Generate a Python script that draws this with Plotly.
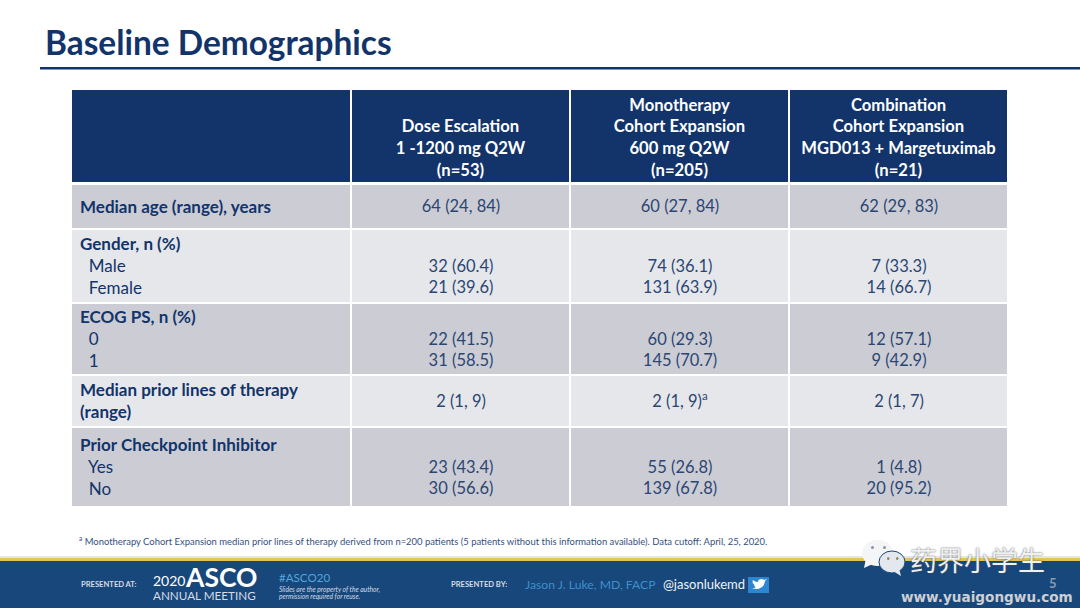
import plotly.graph_objects as go

# table content
col_heads = [
    "&nbsp;<br><b>Dose Escalation</b><br><b>1 -1200 mg Q2W</b><br><b>(n=53)</b>",
    "<b>Monotherapy</b><br><b>Cohort Expansion</b><br><b>600 mg Q2W</b><br><b>(n=205)</b>",
    "<b>Combination</b><br><b>Cohort Expansion</b><br><b>MGD013 + Margetuximab</b><br><b>(n=21)</b>",
]
row_names = [
    "<b>Median age (range), years</b>",
    "<b>Gender, n (%)</b><br>  Male<br>  Female",
    "<b>ECOG PS, n (%)</b><br>  0<br>  1",
    "<b>Median prior lines of therapy</b><br><b>(range)</b>",
    "<b>Prior Checkpoint Inhibitor</b><br>  Yes<br>  No",
]
dose_esc = ["64 (24, 84)", "&nbsp;<br>32 (60.4)<br>21 (39.6)", "&nbsp;<br>22 (41.5)<br>31 (58.5)",
            "2 (1, 9)", "&nbsp;<br>23 (43.4)<br>30 (56.6)"]
mono = ["60 (27, 84)", "&nbsp;<br>74 (36.1)<br>131 (63.9)", "&nbsp;<br>60 (29.3)<br>145 (70.7)",
        "2 (1, 9)<sup>a</sup>", "&nbsp;<br>55 (26.8)<br>139 (67.8)"]
combo = ["62 (29, 83)", "&nbsp;<br>7 (33.3)<br>14 (66.7)", "&nbsp;<br>12 (57.1)<br>9 (42.9)",
         "2 (1, 7)", "&nbsp;<br>1 (4.8)<br>20 (95.2)"]

# page is laid out in slide pixels
col_edges = [71, 351, 570, 789, 1008]
head_edges = [89, 183.3]
row_edges = [184, 228.5, 302.5, 374.5, 426.5, 507]

NAVY = "#12346A"
TXT = "#2B4673"
FONT = "Lato"

fig = go.Figure()

fig.add_trace(go.Heatmap(
    x=col_edges, y=head_edges,
    z=[[0, 0, 0, 0]],
    colorscale=[[0, NAVY], [1, NAVY]], showscale=False,
    xgap=2, ygap=2, hoverinfo="skip",
))
fig.add_trace(go.Scatter(
    x=[(col_edges[i] + col_edges[i + 1]) / 2 for i in range(1, 4)],
    y=[139] * 3,
    mode="text", text=col_heads, textposition="middle center",
    textfont=dict(family=FONT, size=16.6, color="white"),
    hoverinfo="skip",
))

body_text = [["", dose_esc[i], mono[i], combo[i]] for i in range(5)]
fig.add_trace(go.Heatmap(
    x=col_edges, y=row_edges,
    z=[[i % 2] * 4 for i in range(5)],
    text=body_text, texttemplate="%{text}",
    textfont=dict(family=FONT, size=16.5, color=TXT),
    colorscale=[[0, "#CBCCD4"], [1, "#E6E7EB"]], zmin=0, zmax=1, showscale=False,
    xgap=2, ygap=2, hoverinfo="skip",
))

fig.add_trace(go.Scatter(
    x=[80] * 5,
    y=[(row_edges[i] + row_edges[i + 1]) / 2 + 2 for i in range(5)],
    mode="text", text=[t.replace("  ", "&nbsp;&nbsp;") for t in row_names],
    textposition="middle right",
    textfont=dict(family=FONT, size=17, color=NAVY),
    hoverinfo="skip",
))

shapes = [
    dict(type="rect", x0=40, x1=1080, y0=67, y1=69.5, fillcolor=NAVY, line_width=0, layer="above"),
    dict(type="rect", x0=0, x1=1080, y0=556, y1=558, fillcolor="#E6E6E6", line_width=0, layer="below"),
    dict(type="rect", x0=0, x1=1080, y0=558, y1=561, fillcolor="#E3C35A", line_width=0, layer="below"),
    dict(type="rect", x0=0, x1=1080, y0=561, y1=608, fillcolor="#17477B", line_width=0, layer="below"),
    # twitter badge
    dict(type="rect", x0=748, x1=769, y0=577, y1=593, fillcolor="#2F86D0", line_width=0),
    dict(type="path", path="M752,588 C757,590 764,589 765,581 L767,579 L764,580 C762,578 758,579 758,582 "
                           "C756,582 754,581 753,580 C752,582 753,584 754,584 C754,586 755,587 756,587 "
                           "C755,588 753,588 752,588 Z",
         fillcolor="white", line_width=0),
    # wechat bubbles
    dict(type="circle", x0=862, x1=893, y0=540, y1=566, fillcolor="#F4F5F7", line_width=0),
    dict(type="path", path="M866,558 L864,568 L875,563 Z", fillcolor="#F4F5F7", line_width=0),
    dict(type="circle", x0=879, x1=905, y0=551, y1=573, fillcolor="#E4E8EE", line=dict(color="#17477B", width=1)),
    dict(type="path", path="M893,571 L901,576 L899,568 Z", fillcolor="#E4E8EE", line_width=0),
    dict(type="circle", x0=871, x1=874, y0=546, y1=549, fillcolor="#8A95A5", line_width=0),
    dict(type="circle", x0=883, x1=886, y0=546, y1=549, fillcolor="#8A95A5", line_width=0),
    dict(type="circle", x0=887, x1=889.5, y0=557, y1=560, fillcolor="#8A8A5A", line_width=0),
    dict(type="circle", x0=896, x1=898.5, y0=557, y1=560, fillcolor="#8A8A5A", line_width=0),
]


def note(x, y, text, size, color, family=FONT, anchor="left", **font_kw):
    fig.add_annotation(x=x, y=y, text=text, xref="x", yref="y", showarrow=False,
                       xanchor=anchor, yanchor="middle", borderpad=0, borderwidth=0,
                       font=dict(family=family, size=size, color=color, **font_kw))


note(45, 42, "<b>Baseline Demographics</b>", 33.4, NAVY)
note(79, 540, "<sup>a</sup> Monotherapy Cohort Expansion median prior lines of therapy derived from n=200 patients "
              "(5 patients without this information available). Data cutoff: April, 25, 2020.", 9.45, "#33507E")
note(81, 584, "<b>PRESENTED AT:</b>", 7.6, "#D5DCE6")
note(153, 580, "2020", 14, "white")
note(185, 577, "<b>ASCO</b>", 26.5, "white")
note(153, 595, "ANNUAL MEETING", 11.7, "#D5DCE6")
note(279, 577, "#ASCO20", 11.6, "#53A6DE")
note(279, 589, "<i>Slides are the property of the author,</i>", 6.7, "#D5DCE6")
note(279, 596, "<i>permission required for reuse.</i>", 6.7, "#D5DCE6")
note(451, 584, "<b>PRESENTED BY:</b>", 7.6, "#D5DCE6")
note(525, 584, "Jason J. Luke, MD, FACP", 12.2, "#3F8FCB")
note(663, 584, "@jasonlukemd", 13, "#F0F3F7")
note(1053, 583, "<b>5</b>", 13, "#8C9BB0", anchor="center")
note(910, 559, "药界小学生", 27, "#EEF0F3", family="Noto Sans CJK SC", shadow="0px 0px 2px #555")
note(901, 597, "<b>www.yuaigongwu.com</b>", 13.6, "#CDCFD4", family="DejaVu Sans")

fig.update_layout(
    width=1080, height=608, margin=dict(l=0, r=0, t=0, b=0),
    paper_bgcolor="white", plot_bgcolor="white", showlegend=False, shapes=shapes,
    xaxis=dict(range=[0, 1080], visible=False, fixedrange=True),
    yaxis=dict(range=[608, 0], visible=False, fixedrange=True),
)

# default body margin would push the slide 8px off
fig.write_html("out.html", config=dict(displayModeBar=False),
               post_script="document.body.style.margin='0';document.body.style.overflow='hidden';")
